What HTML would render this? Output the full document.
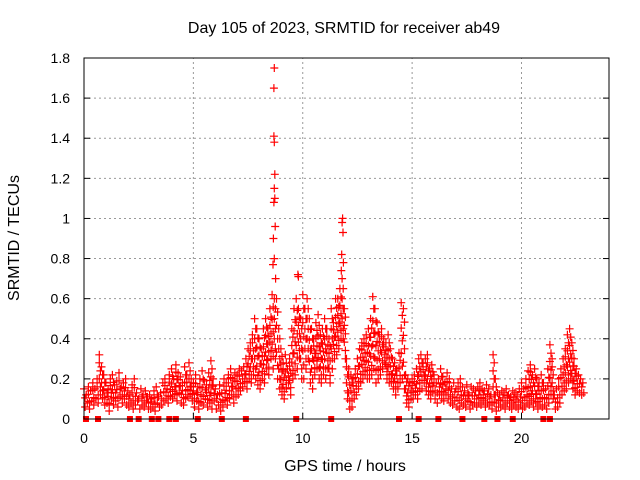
<!DOCTYPE html>
<html><head><meta charset="utf-8">
<style>
body{margin:0;background:#fff;}
svg{display:block;font-family:"Liberation Sans",sans-serif;}
</style></head>
<body>
<svg id="chart" width="640" height="480" viewBox="0 0 640 480">
<text x="344" y="33" font-size="16" text-anchor="middle">Day 105 of 2023, SRMTID for receiver ab49</text>
<text x="345" y="471" font-size="16" text-anchor="middle">GPS time / hours</text>
<text transform="translate(19,238) rotate(-90)" font-size="16" text-anchor="middle">SRMTID / TECUs</text>
<g id="grid"></g><g id="marks"></g><g id="axes"></g>
</svg>
<script>
const xTicks=[0,5,10,15,20];
const yTicks=[0,0.2,0.4,0.6,0.8,1,1.2,1.4,1.6,1.8];
const yTickLabels=["0","0.2","0.4","0.6","0.8","1","1.2","1.4","1.6","1.8"];
const startHour=0, stepHour=0.1;
const srmtidHigh=[0.15,0.12,0.16,0.14,0.18,0.15,0.20,0.32,0.26,0.22,
0.18,0.15,0.20,0.22,0.17,0.19,0.23,0.16,0.18,0.20,
0.14,0.12,0.17,0.20,0.13,0.10,0.15,0.12,0.14,0.11,
0.12,0.10,0.14,0.16,0.11,0.13,0.18,0.20,0.15,0.22,
0.25,0.20,0.27,0.23,0.21,0.18,0.26,0.22,0.28,0.20,
0.18,0.22,0.16,0.20,0.24,0.19,0.17,0.23,0.29,0.20,
0.15,0.12,0.17,0.13,0.20,0.18,0.22,0.25,0.20,0.23,
0.22,0.25,0.24,0.26,0.30,0.35,0.38,0.42,0.50,0.45,
0.40,0.35,0.45,0.50,0.45,0.55,0.62,0.60,0.60,0.45,
0.35,0.28,0.32,0.25,0.30,0.45,0.55,0.60,0.55,0.50,
0.62,0.55,0.60,0.50,0.45,0.40,0.48,0.52,0.42,0.45,
0.50,0.45,0.40,0.55,0.48,0.60,0.60,0.65,0.70,0.55,
0.30,0.25,0.22,0.20,0.25,0.30,0.35,0.38,0.40,0.42,
0.45,0.50,0.61,0.55,0.48,0.42,0.45,0.40,0.38,0.42,
0.35,0.30,0.28,0.25,0.33,0.58,0.55,0.22,0.20,0.18,
0.20,0.22,0.25,0.30,0.32,0.28,0.30,0.32,0.25,0.27,
0.22,0.18,0.20,0.25,0.21,0.18,0.23,0.20,0.15,0.18,
0.15,0.18,0.20,0.16,0.14,0.17,0.12,0.16,0.15,0.14,
0.16,0.18,0.15,0.14,0.17,0.15,0.12,0.32,0.20,0.13,
0.12,0.14,0.13,0.15,0.12,0.11,0.14,0.13,0.12,0.15,
0.18,0.15,0.20,0.24,0.27,0.22,0.25,0.20,0.18,0.22,
0.18,0.15,0.25,0.37,0.30,0.12,0.15,0.20,0.25,0.30,
0.35,0.42,0.45,0.38,0.30,0.25,0.22,0.20,0.18];
const srmtidLow=[0.06,0.08,0.05,0.09,0.07,0.10,0.08,0.12,0.10,0.07,
0.08,0.04,0.10,0.07,0.09,0.06,0.11,0.08,0.10,0.07,
0.06,0.08,0.05,0.07,0.09,0.05,0.07,0.06,0.08,0.05,
0.05,0.06,0.04,0.08,0.06,0.07,0.09,0.10,0.08,0.11,
0.10,0.12,0.09,0.13,0.08,0.07,0.10,0.11,0.12,0.09,
0.06,0.09,0.05,0.08,0.07,0.10,0.06,0.08,0.05,0.09,
0.05,0.07,0.04,0.06,0.09,0.07,0.10,0.12,0.08,0.11,
0.12,0.14,0.16,0.18,0.15,0.20,0.18,0.22,0.20,0.17,
0.15,0.20,0.18,0.25,0.22,0.30,0.25,0.30,0.20,0.15,
0.12,0.10,0.15,0.18,0.12,0.20,0.22,0.25,0.30,0.20,
0.20,0.25,0.30,0.18,0.15,0.22,0.25,0.20,0.18,0.22,
0.20,0.25,0.18,0.25,0.30,0.32,0.35,0.40,0.40,0.30,
0.10,0.05,0.06,0.10,0.12,0.15,0.18,0.20,0.22,0.20,
0.20,0.22,0.25,0.18,0.20,0.22,0.25,0.28,0.20,0.18,
0.18,0.15,0.12,0.15,0.18,0.20,0.15,0.08,0.06,0.10,
0.10,0.12,0.10,0.14,0.15,0.18,0.14,0.12,0.10,0.13,
0.10,0.08,0.12,0.10,0.09,0.12,0.10,0.08,0.07,0.09,
0.06,0.05,0.08,0.07,0.06,0.09,0.05,0.07,0.08,0.06,
0.08,0.07,0.09,0.06,0.08,0.07,0.05,0.08,0.04,0.06,
0.06,0.07,0.05,0.08,0.06,0.05,0.07,0.06,0.05,0.07,
0.05,0.06,0.08,0.07,0.09,0.06,0.08,0.05,0.07,0.06,
0.07,0.05,0.08,0.12,0.10,0.05,0.06,0.08,0.12,0.14,
0.15,0.18,0.20,0.15,0.12,0.14,0.13,0.12,0.13];
const peakHours=[8.7,8.68,8.68,8.7,8.72,8.7,8.72,8.68,8.66,8.74,8.7,8.64,8.76,9.78,9.8,11.82,11.8,11.84,11.78,11.86,11.76,13.2];
const peakValues=[1.75,1.65,1.41,1.38,1.22,1.15,1.10,1.08,0.90,0.96,0.80,0.77,0.70,0.72,0.71,1.00,0.98,0.93,0.82,0.78,0.74,0.61];
const flagHours=[0.09,0.64,2.1,2.5,3.1,3.4,3.9,4.2,5.2,6.3,7.4,9.7,11.3,14.4,15.3,16.2,17.3,18.3,18.9,19.6,21.0,21.3];

const X0=84,X1=609,Y0=419,Y1=58;
const xs=v=>X0+(v-0)/24*(X1-X0);
const ys=v=>Y0-(v/1.8)*(Y0-Y1);
const NS="http://www.w3.org/2000/svg";
function mk(tag,attrs,parent){const e=document.createElementNS(NS,tag);for(const k in attrs)e.setAttribute(k,attrs[k]);parent.appendChild(e);return e;}
const grid=document.getElementById('grid'),marks=document.getElementById('marks'),axes=document.getElementById('axes');
xTicks.forEach((t,i)=>{
  if(t>0){const g=mk('line',{x1:xs(t),x2:xs(t),y1:Y0,y2:Y1,stroke:'#999','stroke-dasharray':'2,3'},grid);
  
  }
  const tk=mk('line',{x1:xs(t),x2:xs(t),y1:Y0,y2:Y0-6,stroke:'#000'},axes);
  
  
  const tx=mk('text',{x:xs(t),y:Y0+24,'font-size':14,'text-anchor':'middle'},axes);tx.textContent=String(t);
  
  
});
yTicks.forEach((t,i)=>{
  if(t>0){const g=mk('line',{x1:X0,x2:X1,y1:ys(t),y2:ys(t),stroke:'#999','stroke-dasharray':'2,3'},grid);
  
  }
  const tk=mk('line',{x1:X0,x2:X0+6,y1:ys(t),y2:ys(t),stroke:'#000'},axes);
  
  
  const tk2=mk('line',{x1:X1,x2:X1-6,y1:ys(t),y2:ys(t),stroke:'#000'},axes);
  
  
  const tx=mk('text',{x:X0-14,y:ys(t)+5,'font-size':14,'text-anchor':'end'},axes);tx.textContent=yTickLabels[i];
  
  
});
const frame=mk('rect',{x:X0,y:Y1,width:X1-X0,height:Y0-Y1,fill:'none',stroke:'#000'},axes);


let d='';
function plus(h,v){const x=xs(h),y=ys(v);d+=`M${(x-4).toFixed(1)} ${y.toFixed(1)}h8M${x.toFixed(1)} ${(y-4).toFixed(1)}v8`;}
srmtidHigh.forEach((v,i)=>{
  const h=startHour+i*stepHour,lo=srmtidLow[i];
  plus(h,v);plus(h+0.05,lo);
  const n=Math.min(6,Math.max(1,Math.round((v-lo)/0.04)));
  for(let k=1;k<n;k++)plus(h+(k%2)*0.05,lo+(v-lo)*k/n);
});
peakHours.forEach((h,i)=>plus(h,peakValues[i]));
const p=mk('path',{d:d,stroke:'#f00','stroke-width':1.2,fill:'none'},marks);


flagHours.forEach(h=>{
  const r=mk('rect',{x:xs(h)-3,y:Y0-3,width:6,height:6,fill:'#f00'},marks);
  
  
});
</script>
</body></html>
